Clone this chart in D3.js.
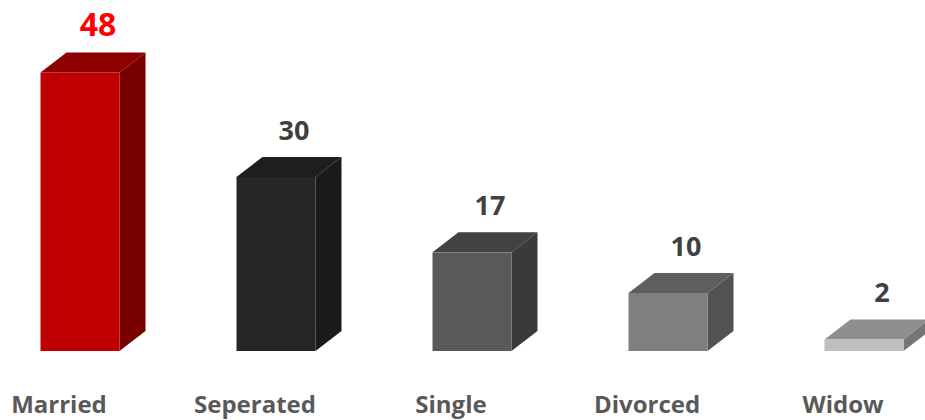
<!DOCTYPE html>
<html>
<head>
<meta charset="utf-8">
<script src="https://cdn.jsdelivr.net/npm/d3@7"></script>
<style>
  body { margin: 0; background: #fff; }
  text { font-family: "Open Sans", sans-serif; font-weight: 700; }
</style>
</head>
<body>
<div id="graph"></div>
<script>
var categories = ["Married", "Seperated", "Single", "Divorced", "Widow"];
var values = [48, 30, 17, 10, 2];
var frontColors = ["#c00000", "#262626", "#595959", "#7f7f7f", "#bfbfbf"];
var sideColors = ["#7a0000", "#1a1a1a", "#3a3a3a", "#525252", "#767676"];
var topColors = ["#8c0000", "#1e1e1e", "#424242", "#5e5e5e", "#8e8e8e"];
var labelColors = ["#ff0000", "#404040", "#404040", "#404040", "#404040"];

var svgWidth = 925, svgHeight = 420;
var baseY = 351;
var dx = 26, dy = 20;

var svg = d3.select("#graph")
  .append("svg")
    .attr("width", svgWidth)
    .attr("height", svgHeight);

var x = d3.scaleBand()
    .domain(categories)
    .range([-18, 962])
    .paddingInner(0.597)
    .paddingOuter(0.2985);

var y = d3.scaleLinear()
    .domain([0, 48])
    .range([baseY, baseY - 278.5]);

var data = categories.map(function(c, i) {
  return { cat: c, value: values[i], i: i };
});

var bars = svg.selectAll(".bar")
  .data(data)
  .enter().append("g")
    .attr("class", "bar");

// side face
bars.append("path")
    .attr("fill", function(d) { return sideColors[d.i]; })
    .attr("d", function(d) {
      var x1 = x(d.cat) + x.bandwidth(), t = y(d.value);
      return "M" + x1 + "," + t + "L" + (x1 + dx) + "," + (t - dy) +
        "L" + (x1 + dx) + "," + (baseY - dy) + "L" + x1 + "," + baseY + "Z";
    });

// top face
bars.append("path")
    .attr("fill", function(d) { return topColors[d.i]; })
    .attr("d", function(d) {
      var x0 = x(d.cat), x1 = x0 + x.bandwidth(), t = y(d.value);
      return "M" + x0 + "," + t + "L" + (x0 + dx) + "," + (t - dy) +
        "L" + (x1 + dx) + "," + (t - dy) + "L" + x1 + "," + t + "Z";
    });

// front face
bars.append("rect")
    .attr("x", function(d) { return x(d.cat); })
    .attr("y", function(d) { return y(d.value); })
    .attr("width", x.bandwidth())
    .attr("height", function(d) { return baseY - y(d.value); })
    .attr("fill", function(d) { return frontColors[d.i]; });

// value labels
bars.append("text")
    .attr("x", function(d) { return x(d.cat) + x.bandwidth() / 2 + 18; })
    .attr("y", function(d) { return y(d.value) - dy - 17; })
    .attr("text-anchor", "middle")
    .attr("fill", function(d) { return labelColors[d.i]; })
    .style("font-size", function(d) { return d.i === 0 ? "32px" : "27px"; })
    .text(function(d) { return d.value; });

// category labels
svg.append("g")
  .selectAll("text")
  .data(categories)
  .enter().append("text")
    .attr("x", function(d) { return x(d) + x.bandwidth() / 2 - 21; })
    .attr("y", 413)
    .attr("text-anchor", "middle")
    .attr("fill", "#595959")
    .style("font-size", "24px")
    .text(function(d) { return d; });
</script>
</body>
</html>
